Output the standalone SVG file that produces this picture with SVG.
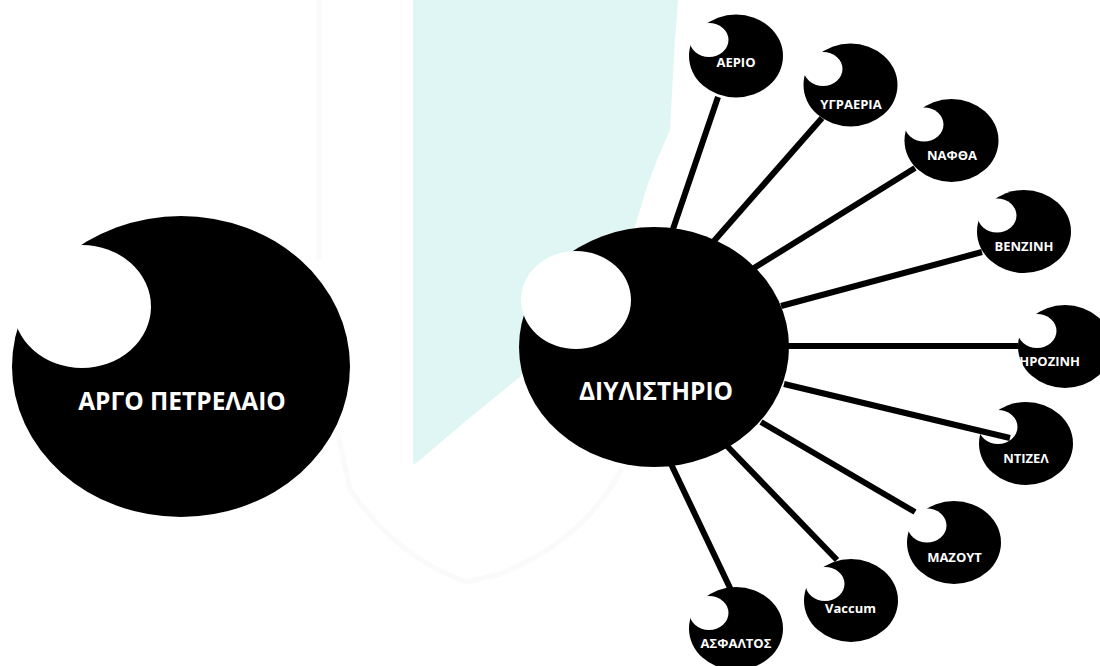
<svg xmlns="http://www.w3.org/2000/svg" width="1100" height="666" viewBox="0 0 1100 666">
  <style>
    .blob { fill: #000000; }
    .bite { fill: #ffffff; }
    .lbl { fill: #ffffff; font-family: "Open Sans", "Noto Sans", "DejaVu Sans", sans-serif; font-weight: bold; text-anchor: middle; }
    .big { font-size: 24.5px; }
    .mid { font-size: 24.5px; }
    .sm { font-size: 13px; }
    .con { stroke: #000000; stroke-width: 6; stroke-linecap: butt; fill: none; }
    .faint { stroke: #fafafa; stroke-width: 5; fill: none; }
  </style>
  <rect x="0" y="0" width="1100" height="666" fill="#ffffff"/>
  <g id="background">
    <path class="faint" d="M319,0 L319,260"/>
    <path class="faint" d="M337,430 L350,490 Q400,560 467,582 L500,574 Q585,540 622,468"/>
    <polygon fill="#e0f6f4" points="413,0 678,0 675,40 670,130 657,160 647,187 633,233 600,280 560,330 520,377 467,420 420,460 413,465"/>
  </g>
  <g id="node-argo">
    <ellipse class="blob" cx="181" cy="366.5" rx="169" ry="150.5"/>
    <ellipse class="bite" cx="82" cy="306.5" rx="69" ry="61.5"/>
    <text class="lbl big" x="182" y="410">ΑΡΓΟ ΠΕΤΡΕΛΑΙΟ</text>
  </g>
  <g id="node-diylistirio">
    <ellipse class="blob" cx="654" cy="347" rx="135" ry="120"/>
    <ellipse class="bite" cx="576" cy="300" rx="55" ry="49"/>
    <text class="lbl mid" x="656" y="400">ΔΙΥΛΙΣΤΗΡΙΟ</text>
  </g>
  <g id="node-aerio">
    <ellipse class="blob" cx="736" cy="56" rx="47" ry="41.5"/>
    <ellipse class="bite" cx="709" cy="40" rx="19.5" ry="17"/>
    <text class="lbl sm" x="736" y="67">ΑΕΡΙΟ</text>
  </g>
  <g id="node-ygraeria">
    <ellipse class="blob" cx="850.5" cy="85" rx="47" ry="41.5"/>
    <ellipse class="bite" cx="823" cy="69" rx="19.5" ry="17"/>
    <text class="lbl sm" x="851" y="109">ΥΓΡΑΕΡΙΑ</text>
  </g>
  <g id="node-nafta">
    <ellipse class="blob" cx="951.5" cy="140.5" rx="47" ry="41.5"/>
    <ellipse class="bite" cx="924" cy="124.5" rx="19.5" ry="17"/>
    <text class="lbl sm" x="952" y="160">ΝΑΦΘΑ</text>
  </g>
  <g id="node-venzini">
    <ellipse class="blob" cx="1024" cy="231.5" rx="47" ry="41.5"/>
    <ellipse class="bite" cx="997" cy="215.5" rx="19.5" ry="17"/>
    <text class="lbl sm" x="1024" y="251">ΒΕΝΖΙΝΗ</text>
  </g>
  <g id="node-kirozini">
    <ellipse class="blob" cx="1065" cy="346.5" rx="47" ry="41.5"/>
    <ellipse class="bite" cx="1037" cy="331" rx="19.5" ry="17"/>
    <text class="lbl sm" x="1080" y="366" style="text-anchor:end">ΚΗΡΟΖΙΝΗ</text>
  </g>
  <g id="node-ntizel">
    <ellipse class="blob" cx="1026" cy="443.5" rx="47" ry="41.5"/>
    <ellipse class="bite" cx="998" cy="427" rx="19.5" ry="17"/>
    <text class="lbl sm" x="1026" y="463">ΝΤΙΖΕΛ</text>
  </g>
  <g id="node-mazout">
    <ellipse class="blob" cx="954" cy="542.5" rx="47" ry="41.5"/>
    <ellipse class="bite" cx="927" cy="525.5" rx="19.5" ry="17"/>
    <text class="lbl sm" x="954.5" y="562">ΜΑΖΟΥΤ</text>
  </g>
  <g id="node-vaccum">
    <ellipse class="blob" cx="851" cy="600.5" rx="47" ry="41.5"/>
    <ellipse class="bite" cx="825" cy="584" rx="19.5" ry="17"/>
    <text class="lbl sm" x="850.5" y="613">Vaccum</text>
  </g>
  <g id="node-asfaltos">
    <ellipse class="blob" cx="736" cy="628.5" rx="47" ry="41.5"/>
    <ellipse class="bite" cx="709" cy="613" rx="19.5" ry="17"/>
    <text class="lbl sm" x="736" y="648">ΑΣΦΑΛΤΟΣ</text>
  </g>
  <g id="connectors">
    <line class="con" x1="673" y1="229" x2="718" y2="97"/>
    <line class="con" x1="714" y1="241" x2="822" y2="118"/>
    <line class="con" x1="754" y1="268" x2="915" y2="168"/>
    <line class="con" x1="781" y1="306" x2="982" y2="252"/>
    <line class="con" x1="788" y1="346" x2="1018" y2="346"/>
    <line class="con" x1="784" y1="384" x2="1010" y2="438"/>
    <line class="con" x1="761" y1="422" x2="915" y2="512"/>
    <line class="con" x1="727" y1="446" x2="837" y2="560"/>
    <line class="con" x1="671" y1="464" x2="731" y2="590"/>
  </g>
</svg>
